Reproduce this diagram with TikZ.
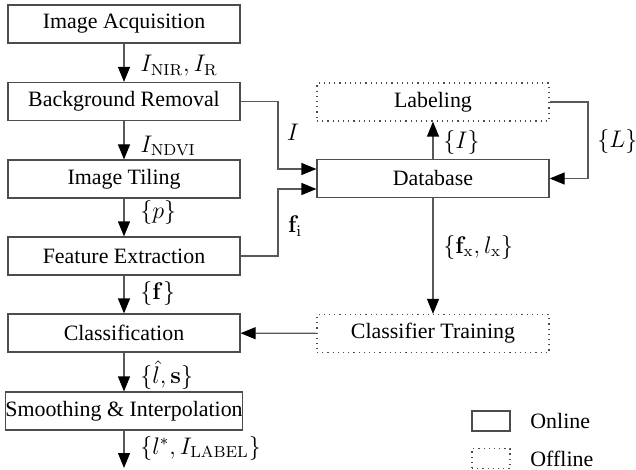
\documentclass[tikz,border=0pt]{standalone}
\usepackage[no-math]{fontspec}
\setmainfont{Liberation Serif}
\usetikzlibrary{arrows.meta}
\begin{document}
\begin{tikzpicture}[x=0.5pt,y=-0.5pt,
  font=\fontsize{10.95}{13.6}\selectfont,
  box/.style={draw=black!70,line width=0.6pt,inner sep=0pt,minimum width=116pt,minimum height=19pt},
  onbox/.style={box},
  offbox/.style={box,dotted},
  arr/.style={draw=black!65,line width=0.6pt,-{Triangle[length=7.5pt,width=6pt,color=black]}},
  mlbl/.style={inner sep=0pt,font=\fontsize{12}{14}\selectfont},
  lbl/.style={mlbl,anchor=west}]
\useasboundingbox (0,0) rectangle (636,470);
% left column
\node[onbox] (acq) at (124,24) {Image Acquisition};
\node[onbox] (bg) at (124,101.5) {Background Removal};
\node[onbox] (tile) at (124,179) {Image Tiling};
\node[onbox] (feat) at (124,256) {Feature Extraction};
\node[onbox] (cls) at (124,333) {Classification};
\node[onbox] (smooth) at (124,411) {Smoothing \& Interpolation};
\coordinate (out) at (124,468);
% right column
\node[offbox] (lab) at (433,102) {Labeling};
\node[onbox] (db) at (433,178.5) {Database};
\node[offbox] (train) at (433,333.5) {Classifier Training};
% legend
\node[onbox,minimum width=19pt,minimum height=10pt] (lon) at (491,421) {};
\node[offbox,minimum width=19pt,minimum height=10pt] (loff) at (491,458.5) {};
\node[anchor=west,inner sep=0pt] (lont) at (530,421) {Online};
\node[anchor=west,inner sep=0pt] (lofft) at (530,459) {Offline};
% left chain
\draw[arr] (acq) -- (bg);
\draw[arr] (bg) -- (tile);
\draw[arr] (tile) -- (feat);
\draw[arr] (feat) -- (cls);
\draw[arr] (cls) -- (smooth);
\draw[arr] (smooth) -- (out);
\node[lbl] (l1) at (140,66) {$I_{\mathrm{NIR}}, I_{\mathrm{R}}$};
\node[lbl] (l2) at (140,146) {$I_{\mathrm{NDVI}}$};
\node[lbl] (l3) at (140,213) {$\{p\}$};
\node[lbl] (l4) at (140,293) {$\{\mathbf{f}\}$};
\node[lbl] (l5) at (140,375) {$\{\hat{l},\mathbf{s}\}$};
\node[lbl] (l6) at (140,448) {$\{l^{*}, I_{\mathrm{LABEL}}\}$};
% into database
\coordinate (j1) at (278,169);
\coordinate (j2) at (278,189);
\draw[arr] (bg.east) -| (j1) -- (j1 -| db.west);
\draw[arr] (feat.east) -| (j2) -- (j2 -| db.west);
\node[mlbl] (li) at (293,132) {$I$};
\node[mlbl] (lfi) at (295,226) {$\mathbf{f}_{\mathrm{i}}$};
% database links
\draw[arr] (db) -- (lab);
\node[lbl] (lI) at (443,143) {$\{I\}$};
\coordinate (j3) at (588,102);
\draw[arr] (lab.east) -- (j3) |- (db.east);
\node[lbl] (lL) at (597,142) {$\{L\}$};
\draw[arr] (db) -- (train);
\node[lbl] (lfx) at (443,247) {$\{\mathbf{f}_{\mathrm{x}}, l_{\mathrm{x}}\}$};
\draw[arr] (train) -- (cls);
\end{tikzpicture}
\end{document}
